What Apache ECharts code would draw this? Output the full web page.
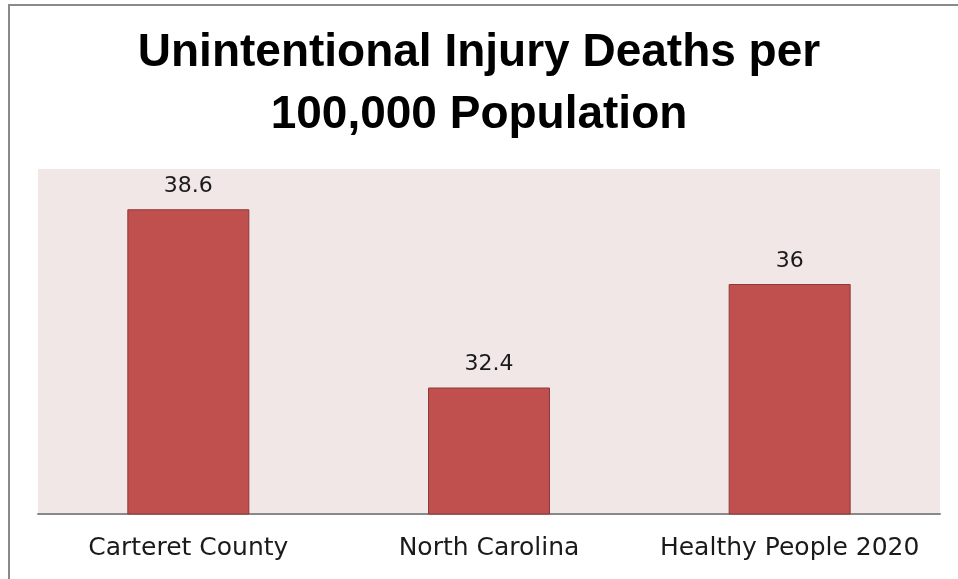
<!DOCTYPE html>
<html>
<head>
<meta charset="utf-8">
<script src="https://cdn.jsdelivr.net/npm/echarts@6/dist/echarts.min.js"></script>
<style>
html,body{margin:0;padding:0;background:#fff;}
#chart{width:958px;height:579px;}
</style>
</head>
<body>
<div id="chart"></div>
<script>
const titleText = 'Unintentional Injury Deaths per\n100,000 Population';
const categories = ['Carteret County', 'North Carolina', 'Healthy People 2020'];
const values = [38.6, 32.4, 36];
const valueLabels = ['38.6', '32.4', '36'];

const chart = echarts.init(document.getElementById('chart'));
chart.setOption({
  backgroundColor: '#ffffff',
  animation: false,
  title: {
    text: titleText,
    left: 'center',
    top: 22,
    padding: 0,
    textStyle: {
      fontFamily: 'Liberation Sans, Arial, sans-serif',
      fontWeight: 'bold',
      fontSize: 46,
      lineHeight: 62,
      color: '#000000'
    }
  },
  graphic: [{
    type: 'rect',
    shape: { x: 9, y: 5, width: 1200, height: 1000 },
    style: { fill: 'none', stroke: '#8a8a8a', lineWidth: 2 },
    silent: true
  }],
  grid: {
    left: 38, right: 18, top: 169, bottom: 65,
    show: true, backgroundColor: '#F2E7E7', borderWidth: 0
  },
  xAxis: {
    type: 'category',
    data: categories,
    axisTick: { show: false },
    axisLine: { lineStyle: { color: '#898989', width: 2 } },
    axisLabel: {
      interval: 0,
      hideOverlap: false,
      margin: 22,
      fontFamily: 'DejaVu Sans, sans-serif',
      fontSize: 25,
      color: '#1a1a1a'
    }
  },
  yAxis: {
    type: 'value',
    min: 28, max: 40, interval: 2,
    show: false,
    splitLine: { show: false }
  },
  series: [{
    type: 'bar',
    data: values,
    barWidth: 122,
    itemStyle: { color: '#C0504D', borderColor: '#8C3A38', borderWidth: 1 },
    label: {
      show: true,
      position: 'top',
      distance: 12,
      formatter: p => valueLabels[p.dataIndex],
      fontFamily: 'DejaVu Sans, sans-serif',
      fontSize: 22,
      color: '#1a1a1a'
    }
  }]
});
</script>
</body>
</html>
